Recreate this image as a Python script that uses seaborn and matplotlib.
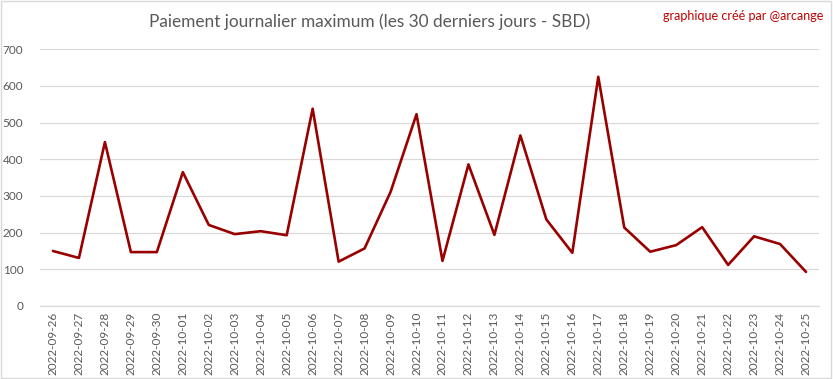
"""
Paiement journalier maximum - recreation avec seaborn
"""
import matplotlib
matplotlib.use("Agg")
import matplotlib.pyplot as plt
import pandas as pd
import seaborn as sns

dates = [
    "2022-09-26", "2022-09-27", "2022-09-28", "2022-09-29", "2022-09-30",
    "2022-10-01", "2022-10-02", "2022-10-03", "2022-10-04", "2022-10-05",
    "2022-10-06", "2022-10-07", "2022-10-08", "2022-10-09", "2022-10-10",
    "2022-10-11", "2022-10-12", "2022-10-13", "2022-10-14", "2022-10-15",
    "2022-10-16", "2022-10-17", "2022-10-18", "2022-10-19", "2022-10-20",
    "2022-10-21", "2022-10-22", "2022-10-23", "2022-10-24", "2022-10-25",
]
max_payout = [
    150, 131, 447, 147, 147, 365, 221, 196, 204, 193,
    538, 121, 157, 311, 523, 123, 386, 194, 465, 236,
    145, 625, 214, 148, 166, 215, 112, 190, 169, 93,
]
y_ticks = [0, 100, 200, 300, 400, 500, 600, 700]

title = "Paiement journalier maximum (les 30 derniers jours - SBD)"
credit = "graphique créé par @arcange"

df = pd.DataFrame({"date": dates, "sbd": max_payout})

sns.set_theme(style="white")
plt.rcParams["font.family"] = ["Lato", "DejaVu Sans"]

fig = plt.figure(figsize=(8.33, 3.79), dpi=100)
ax = fig.add_axes([40 / 833, 1 - 306 / 379, 779 / 833, (306 - 49.3) / 379])

sns.lineplot(data=df, x="date", y="sbd", ax=ax, color="#990000",
             linewidth=1.9, sort=False)

ax.set_xlim(-0.5, len(dates) - 0.5)
ax.set_ylim(0, 700)
ax.set_yticks(y_ticks)
ax.set_yticklabels([str(v) for v in y_ticks])
ax.set_xticks(range(len(dates)))
ax.set_xticklabels(dates, rotation=90)
ax.set_xlabel("")
ax.set_ylabel("")

ax.grid(axis="y", color="#d9d9d9", linewidth=0.9)
ax.set_axisbelow(True)
for side in ["top", "right", "left"]:
    ax.spines[side].set_visible(False)
ax.spines["bottom"].set_color("#d9d9d9")
ax.spines["bottom"].set_linewidth(0.9)
ax.tick_params(axis="both", length=0, labelsize=8.5, labelcolor="#595959", pad=4)
ax.tick_params(axis="y", pad=12)

fig.text(370 / 833, 1 - 22 / 379, title, ha="center", va="center",
         fontsize=12.4, color="#595959")
fig.text(823 / 833, 1 - 16 / 379, credit, ha="right", va="center",
         fontsize=9, color="#c00000")

# bordure du graphique
fig.patches.append(plt.Rectangle((0.001, 0.002), 0.997, 0.995, transform=fig.transFigure,
                                 fill=False, edgecolor="#d9d9d9", linewidth=1))

fig.savefig("out.png", dpi=100)
